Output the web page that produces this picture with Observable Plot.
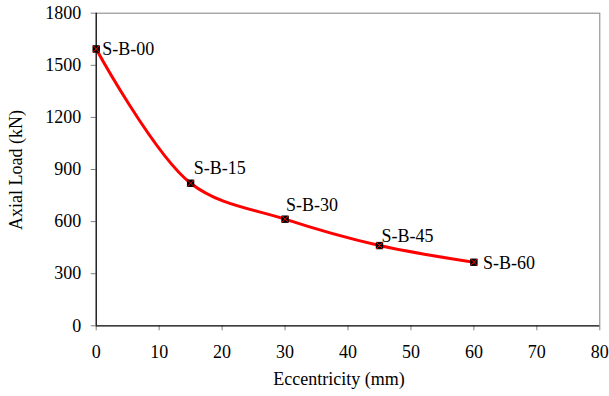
<!DOCTYPE html>
<html>
<head>
<meta charset="utf-8">
<script src="https://cdn.jsdelivr.net/npm/d3@7"></script>
<script src="https://cdn.jsdelivr.net/npm/@observablehq/plot@0.6"></script>
<style>
  body { margin: 0; background: #fff; }
  #chart svg { display: block; }
</style>
</head>
<body>
<div id="chart"></div>
<script>
const eccentricity = [0, 15, 30, 45, 60];
const axialLoad = [1594, 821, 614, 462, 366];
const specimens = ["S-B-00", "S-B-15", "S-B-30", "S-B-45", "S-B-60"];
const xTicks = [0, 10, 20, 30, 40, 50, 60, 70, 80];
const yTicks = [0, 300, 600, 900, 1200, 1500, 1800];

const data = eccentricity.map((e, i) => ({ e, p: axialLoad[i], name: specimens[i] }));

// label placement (style, not data)
const labelOffset = {
  "S-B-00": [6, 0],
  "S-B-15": [3, -15],
  "S-B-30": [1, -14],
  "S-B-45": [2, -9],
  "S-B-60": [9, 1]
};

const W = 609, H = 396;
const mL = 95.7, mR = 9.7, mT = 12.7, mB = 70.7;
const font = "'Liberation Serif', 'Times New Roman', serif";
const fs = 18;

const chart = Plot.plot({
  width: W,
  height: H,
  marginLeft: mL,
  marginRight: mR,
  marginTop: mT,
  marginBottom: mB,
  style: { fontFamily: font, fontSize: fs + "px", background: "#fff", color: "#000" },
  x: { domain: [0, 80], ticks: xTicks, label: null },
  y: { domain: [0, 1800], ticks: yTicks, label: null },
  marks: [
    // gray top and right frame
    Plot.ruleY([1800], { stroke: "#808080", strokeWidth: 1 }),
    Plot.ruleX([80], { stroke: "#808080", strokeWidth: 1 }),
    Plot.axisX({ ticks: xTicks, tickFormat: d3.format("d"), tickSize: 5, tickPadding: 14, stroke: "#808080", strokeWidth: 1, fontSize: fs, label: null }),
    Plot.axisY({ ticks: yTicks, tickFormat: d3.format("d"), tickSize: 5, tickPadding: 10, stroke: "#808080", strokeWidth: 1, fontSize: fs, label: null }),
    Plot.ruleX([0], { stroke: "#000", strokeWidth: 1.3 }),
    Plot.ruleY([0], { stroke: "#000", strokeWidth: 1.3 }),
    Plot.line(data, { x: "e", y: "p", stroke: "#ff0000", strokeWidth: 3, curve: "catmull-rom" }),
    Plot.dot(data, { x: "e", y: "p", symbol: "square", r: 3.6, fill: "#000", stroke: "#000", strokeWidth: 1 }),
    Plot.dot(data, { x: "e", y: "p", symbol: "times", r: 3.2, stroke: "#ff0000", strokeWidth: 1 }),
    ...specimens.map(s => Plot.text(data.filter(d => d.name === s), {
      x: "e", y: "p", text: "name", textAnchor: "start",
      dx: labelOffset[s][0], dy: labelOffset[s][1], fontSize: fs, fill: "#000"
    }))
  ]
});

document.getElementById("chart").appendChild(chart);

// axis titles
const svg = d3.select(chart);
svg.append("text")
  .attr("x", 339).attr("y", 381)
  .attr("text-anchor", "middle")
  .attr("dominant-baseline", "middle")
  .attr("font-family", font).attr("font-size", fs)
  .text("Eccentricity (mm)");
svg.append("text")
  .attr("transform", "translate(18,170) rotate(-90)")
  .attr("text-anchor", "middle")
  .attr("dominant-baseline", "middle")
  .attr("font-family", font).attr("font-size", fs)
  .text("Axial Load (kN)");
</script>
</body>
</html>
